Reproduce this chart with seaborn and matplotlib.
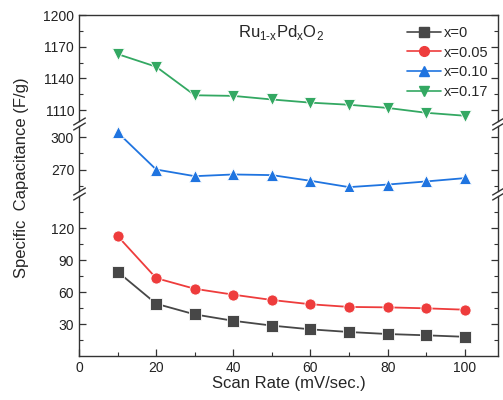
import numpy as np
import pandas as pd
import matplotlib
matplotlib.use("Agg")
import matplotlib.pyplot as plt
import seaborn as sns
from matplotlib.ticker import MultipleLocator

rate = [10, 20, 30, 40, 50, 60, 70, 80, 90, 100]
cap_x0 = [79, 49, 39, 33, 28.5, 25, 22.5, 20.6, 19.4, 18]
cap_x005 = [112.5, 73, 63, 57.5, 52.5, 48.5, 46, 45.6, 44.7, 43.4]
cap_x010 = [304.6, 270, 263.8, 265.4, 264.8, 259.5, 253.6, 256, 258.9, 262]
cap_x017 = [1163, 1151, 1124, 1123.4, 1120, 1117, 1115, 1112, 1107.4, 1104.6]
labels = ["x=0", "x=0.05", "x=0.10", "x=0.17"]

df = pd.DataFrame({
    "rate": rate * 4,
    "cap": cap_x0 + cap_x005 + cap_x010 + cap_x017,
    "series": sum([[l] * len(rate) for l in labels], []),
})

sns.set_style("ticks")
plt.rcParams["font.family"] = ["Liberation Sans", "DejaVu Sans"]
plt.rcParams["mathtext.fontset"] = "custom"
plt.rcParams["mathtext.rm"] = "Liberation Sans"

palette = {"x=0": "#474747", "x=0.05": "#ee3c3c", "x=0.10": "#1f74e0", "x=0.17": "#33a862"}
markers = {"x=0": "s", "x=0.05": "o", "x=0.10": "^", "x=0.17": "v"}

fig = plt.figure(figsize=(5.03, 4.0), dpi=100)
W, H = 503.0, 400.0
x0, x1 = 79, 498

def make_ax(ytop, ybot):
    return fig.add_axes([x0 / W, 1 - ybot / H, (x1 - x0) / W, (ybot - ytop) / H])

ax_top = make_ax(15, 120.6)
ax_mid = make_ax(125.5, 191)
ax_bot = make_ax(196, 356)
axes = [ax_top, ax_mid, ax_bot]

spine_c = "#333333"
for ax in axes:
    sns.lineplot(data=df, x="rate", y="cap", hue="series", style="series",
                 palette=palette, markers=markers, dashes=False, markersize=8,
                 markeredgewidth=0.6, linewidth=1.3, ax=ax, legend=False)
    ax.set_xlim(0, 108.6)
    ax.set_xlabel("")
    ax.set_ylabel("")
    for s in ax.spines.values():
        s.set_color(spine_c)
        s.set_linewidth(1.0)
    ax.tick_params(which="both", direction="in", right=True, top=False,
                   color=spine_c, labelsize=10, labelcolor="#222222")
    ax.tick_params(which="major", length=5, width=0.9)
    ax.tick_params(which="minor", length=3, width=0.8)

ax_top.set_ylim(1100, 1200)
ax_top.set_yticks([1110, 1140, 1170, 1200])
ax_top.set_yticks([1125, 1155, 1185], minor=True)

ax_mid.set_ylim(250, 311)
ax_mid.set_yticks([270, 300])
ax_mid.set_yticks([255, 285], minor=True)

ax_bot.set_ylim(0, 150)
ax_bot.set_yticks([30, 60, 90, 120])
ax_bot.set_yticks([15, 45, 75, 105, 135], minor=True)

for ax in [ax_top, ax_mid]:
    ax.spines["bottom"].set_visible(False)
    ax.tick_params(axis="x", which="both", bottom=False, labelbottom=False)
for ax in [ax_mid, ax_bot]:
    ax.spines["top"].set_visible(False)

ax_bot.set_xticks([0, 20, 40, 60, 80, 100])
ax_bot.xaxis.set_minor_locator(MultipleLocator(10))
ax_bot.set_xlabel("Scan Rate (mV/sec.)", fontsize=12, labelpad=1)

# break marks
kw = dict(marker=[(-1, -0.6), (1, 0.6)], markersize=9, linestyle="none",
          color=spine_c, mec=spine_c, mew=1.0, clip_on=False)
ax_top.plot([0, 1], [0, 0], transform=ax_top.transAxes, **kw)
ax_mid.plot([0, 1], [1, 1], transform=ax_mid.transAxes, **kw)
ax_mid.plot([0, 1], [0, 0], transform=ax_mid.transAxes, **kw)
ax_bot.plot([0, 1], [1, 1], transform=ax_bot.transAxes, **kw)

ax_top.text(52.3, 1183, r"Ru$_{\mathregular{1\text{-}x}}$Pd$_{\mathregular{x}}$O$_{\mathregular{2}}$",
            fontsize=12, ha="center", va="center")

handles = [plt.Line2D([], [], color=palette[l], marker=markers[l], markersize=7,
                      linewidth=1.2) for l in labels]
fig.legend(handles, labels, loc="upper left", bbox_to_anchor=(407 / W, 1 - 26 / H),
           frameon=False, fontsize=10.5, handlelength=2.3, handletextpad=0.2,
           labelspacing=0.38, borderpad=0, borderaxespad=0)

fig.text(22 / W, 0.555, "Specific  Capacitance (F/g)", rotation=90,
         fontsize=12, ha="center", va="center")

fig.savefig("out.png", dpi=100)
